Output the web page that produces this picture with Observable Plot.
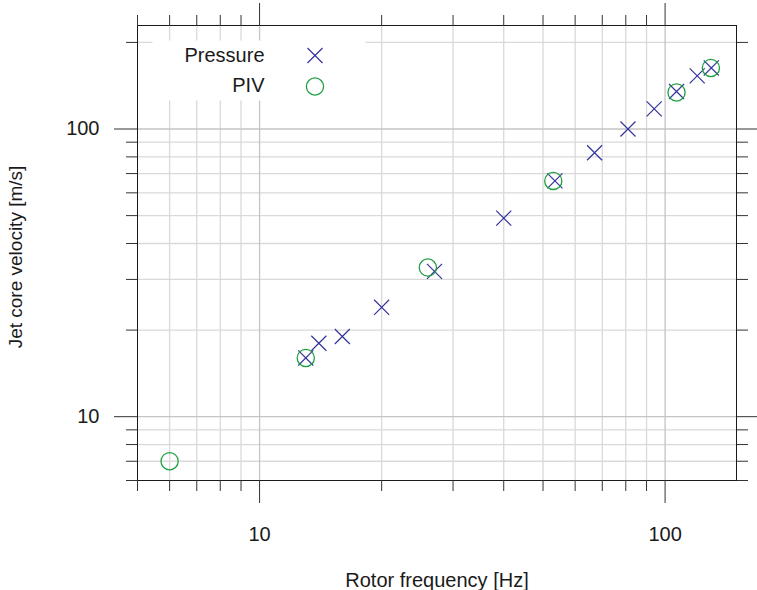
<!DOCTYPE html>
<html>
<head>
<meta charset="utf-8">
<script src="https://cdn.jsdelivr.net/npm/d3@7"></script>
<script src="https://cdn.jsdelivr.net/npm/@observablehq/plot@0.6"></script>
<style>
  html, body { margin: 0; padding: 0; background: #ffffff; }
  #chart svg { display: block; }
</style>
</head>
<body>
<div id="chart"></div>
<script>
// ---- Data ----
const pressureFreq = [13, 14, 16, 20, 27, 40, 53.5, 67, 81, 94, 106.7, 120, 130];
const pressureVel  = [16, 18, 19, 24, 32, 49, 66, 82.7, 100, 117.5, 135, 153, 163];
const pivFreq = [6, 13, 26, 53, 106.7, 129.7];
const pivVel  = [7, 16, 33, 66, 134, 163];

const seriesNames = ["Pressure", "PIV"];
const xLabel = "Rotor frequency [Hz]";
const yLabel = "Jet core velocity [m/s]";

const xDomain = [5, 150];
const yDomain = [6, 229];
const xMajorTicks = [10, 100];
const xMinorTicks = [5, 6, 7, 8, 9, 20, 30, 40, 50, 60, 70, 80, 90];
const yMajorTicks = [10, 100];
const yMinorTicks = [6, 7, 8, 9, 20, 30, 40, 50, 60, 70, 80, 90, 200];
const xGridMinor = [6, 7, 8, 9, 20, 30, 40, 50, 60, 70, 80, 90];
const yGridMinor = [7, 8, 9, 20, 30, 40, 50, 60, 70, 80, 90, 200];

// ---- Derived tables ----
const pressure = pressureFreq.map((f, i) => ({f, v: pressureVel[i]}));
const piv = pivFreq.map((f, i) => ({f, v: pivVel[i]}));

const crossColor = "#34349c";
const circleColor = "#1f9f40";
const tickColor = "#333333";
const minorGrid = "#d9d9d9";
const majorGrid = "#c4c4c4";

const noLabel = () => "";

const chart = Plot.plot({
  width: 757,
  height: 590,
  marginLeft: 137,
  marginRight: 21,
  marginTop: 25,
  marginBottom: 110,
  style: {fontFamily: "'Liberation Sans', Arial, Helvetica, sans-serif", fontSize: "20px", background: "#ffffff", color: "#1a1a1a"},
  x: {type: "log", domain: xDomain},
  y: {type: "log", domain: yDomain},
  marks: [
    // grid
    Plot.ruleX(xGridMinor, {stroke: minorGrid, strokeWidth: 1.3}),
    Plot.ruleY(yGridMinor, {stroke: minorGrid, strokeWidth: 1.3}),
    Plot.ruleX(xMajorTicks, {stroke: majorGrid, strokeWidth: 1.3}),
    Plot.ruleY(yMajorTicks, {stroke: majorGrid, strokeWidth: 1.3}),
    // legend background
    Plot.frame({fill: "#ffffff", stroke: null, insetLeft: 15, insetTop: 15, insetRight: 371, insetBottom: 380}),
    // data
    Plot.dot(pressure, {x: "f", y: "v", symbol: "times", r: 6.9, stroke: crossColor, strokeWidth: 1.2}),
    Plot.dot(piv, {x: "f", y: "v", symbol: "circle", r: 8.6, stroke: circleColor, strokeWidth: 1.3, fill: "none"}),
    // legend
    Plot.text([seriesNames[0]], {frameAnchor: "top-left", dx: 127, dy: 30, textAnchor: "end", lineAnchor: "middle", fill: "#1a1a1a", fontSize: 20}),
    Plot.text([seriesNames[1]], {frameAnchor: "top-left", dx: 127, dy: 60.5, textAnchor: "end", lineAnchor: "middle", fill: "#1a1a1a", fontSize: 20}),
    Plot.dot([seriesNames[0]], {frameAnchor: "top-left", dx: 177.5, dy: 30, symbol: "times", r: 6.9, stroke: crossColor, strokeWidth: 1.2}),
    Plot.dot([seriesNames[1]], {frameAnchor: "top-left", dx: 177.5, dy: 61, symbol: "circle", r: 8.6, stroke: circleColor, strokeWidth: 1.3, fill: "none"}),
    // frame
    Plot.frame({stroke: "#1a1a1a", strokeWidth: 1}),
    // axes: bottom
    Plot.axisX({anchor: "bottom", ticks: xMinorTicks, tickSize: 11, tickFormat: noLabel, stroke: tickColor, label: null}),
    Plot.axisX({anchor: "bottom", ticks: xMajorTicks, tickSize: 23, tickPadding: 23, tickFormat: d => String(d), stroke: tickColor, fill: "#1a1a1a", fontSize: 20, label: null}),
    // top
    Plot.axisX({anchor: "top", ticks: xMinorTicks, tickSize: 11, tickFormat: noLabel, stroke: tickColor, label: null}),
    Plot.axisX({anchor: "top", ticks: xMajorTicks, tickSize: 23, tickFormat: noLabel, stroke: tickColor, label: null}),
    // left
    Plot.axisY({anchor: "left", ticks: yMinorTicks, tickSize: 11, tickFormat: noLabel, stroke: tickColor, label: null}),
    Plot.axisY({anchor: "left", ticks: yMajorTicks, tickSize: 23, tickPadding: 15, tickFormat: d => String(d), stroke: tickColor, fill: "#1a1a1a", fontSize: 20, label: null}),
    // right
    Plot.axisY({anchor: "right", ticks: yMinorTicks, tickSize: 11, tickFormat: noLabel, stroke: tickColor, label: null}),
    Plot.axisY({anchor: "right", ticks: yMajorTicks, tickSize: 23, tickFormat: noLabel, stroke: tickColor, label: null}),
    // axis titles
    Plot.text([xLabel], {frameAnchor: "bottom", dy: 106, textAnchor: "middle", lineAnchor: "bottom", fill: "#1a1a1a", fontSize: 20}),
    Plot.text([yLabel], {frameAnchor: "left", rotate: -90, dx: -115.5, dy: 4, textAnchor: "middle", lineAnchor: "bottom", fill: "#1a1a1a", fontSize: 19})
  ]
});

document.getElementById("chart").appendChild(chart);
</script>
</body>
</html>
